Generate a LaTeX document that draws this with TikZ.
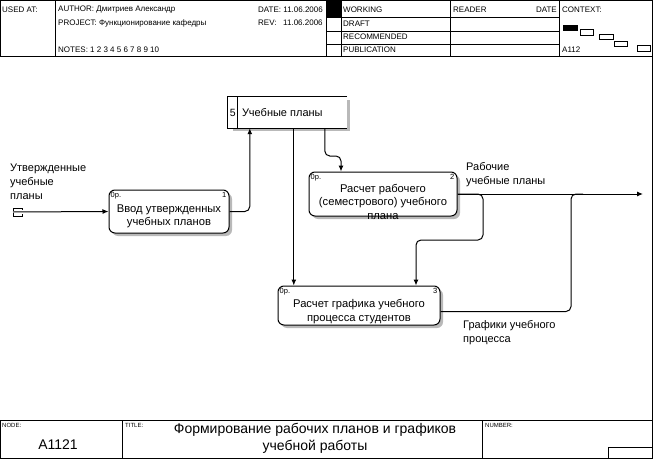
\documentclass[tikz,border=0pt]{standalone}
\usepackage{fontspec}
\setmainfont{Liberation Sans}
\usetikzlibrary{positioning,calc,arrows.meta,shadows}

\tikzset{
  frame/.style={line width=1pt},
  head/.style={font=\fontsize{8}{9}\selectfont, anchor=west, inner sep=0pt},
  foot/.style={font=\fontsize{6}{7}\selectfont, anchor=west, inner sep=0pt},
  func/.style={draw, line width=1pt, rounded corners=6pt, fill=white, inner sep=0pt,
    drop shadow={shadow xshift=3pt, shadow yshift=-3pt, fill=gray!55, opacity=1}},
  functext/.style={align=center, inner sep=0pt, font=\fontsize{11.2}{13.5}\selectfont},
  corner/.style={font=\fontsize{7.5}{8}\selectfont, inner sep=0pt},
  arrowtext/.style={align=left, anchor=west, inner sep=0pt, font=\fontsize{11}{14}\selectfont},
  flow/.style={line width=1pt, rounded corners=5pt, -{Latex[length=6pt,width=5pt]}},
}

\begin{document}
\begin{tikzpicture}[x=1pt,y=-1pt]
	\useasboundingbox (0,0) rectangle (656,460);

	% header
	\draw[frame] (0.5,0.5) rectangle (652,57);
	\draw[frame] (55,0.5) -- (55,57);
	\draw[frame] (326,0.5) -- (326,57);
	\draw[frame] (341,0.5) -- (341,57);
	\draw[frame] (450,0.5) -- (450,57);
	\draw[frame] (559,0.5) -- (559,57);
	\fill (326,0.5) rectangle (341,18);
	\foreach \y in {18,32,45}
		\draw[frame] (326,\y) -- (559,\y);

	\node[head] (usedat) at (2,10) {USED AT:};
	\node[head] (author) at (58,10) {AUTHOR: Дмитриев Александр};
	\node[head] (project) at (58,23) {PROJECT: Функционирование кафедры};
	\node[head] (notes) at (58,50) {NOTES: 1 2 3 4 5 6 7 8 9 10};
	\node[head] (date) at (258,10) {DATE: 11.06.2006};
	\node[head] (rev) at (258,23) {REV: \ \ 11.06.2006};
	\node[head] (working) at (343,10) {WORKING};
	\node[head] (draft) at (343,24) {DRAFT};
	\node[head] (recommended) at (343,37) {RECOMMENDED};
	\node[head] (publication) at (343,50) {PUBLICATION};
	\node[head] (reader) at (453,10) {READER};
	\node[head, anchor=east] (readerdate) at (557,10) {DATE};
	\node[head] (context) at (562,10) {CONTEXT:};
	\node[head] (parent) at (562,50) {A112};

	% context
	\fill (563,25) rectangle (578,31);
	\draw (580,29) rectangle (593,35);
	\draw (599,34) rectangle (613,39);
	\draw (614,41) rectangle (627,46);
	\draw (637,45) rectangle (650,51);

	% border
	\draw[frame] (652,57) -- (652,420);

	% footer
	\draw[frame] (0.5,420) rectangle (652,458);
	\draw[frame] (122,420) -- (122,458);
	\draw[frame] (482,420) -- (482,458);
	\draw[frame] (608,447) rectangle (652,458);
	\node[foot] (nodelbl) at (2,425) {NODE:};
	\node[font=\fontsize{14}{16}\selectfont] (nodeno) at (58,445) {A1121};
	\node[foot] (titlelbl) at (125,425) {TITLE:};
	\node[align=center, font=\fontsize{14}{16.5}\selectfont] (title) at (315,438.5) {Формирование рабочих планов и графиков\\учебной работы};
	\node[foot] (numberlbl) at (485,425) {NUMBER:};

	% store
	\node[minimum width=119pt, minimum height=31pt, inner sep=0pt] (store) at (287.5,112.5) {};
	\fill[gray!55] ($(store.north east)+(0,3)$) rectangle ($(store.south east)+(3,3)$);
	\fill[gray!55] ($(store.south west)+(5,0)$) rectangle ($(store.south east)+(3,3)$);
	\draw[frame] (store.north east) -- (store.north west) -- (store.south west) -- (store.south east);
	\draw[frame] ($(store.north west)+(10,0)$) -- ($(store.south west)+(10,0)$);
	\node[font=\fontsize{10.5}{12}\selectfont] (storeno) at ($(store.west)+(5,0)$) {5};
	\node[arrowtext] (storename) at ($(store.west)+(14,0)$) {Учебные планы};

	% activities
	\node[func, minimum width=120pt, minimum height=43pt] (inputbox) at (169,211.5) {};
	\node[functext] (inputtext) at (169,216.5) {Ввод утвержденных\\учебных планов};
	\node[corner, anchor=north west] (inputcost) at ($(inputbox.north west)+(2,3)$) {0р.};
	\node[corner, anchor=north east] (inputno) at ($(inputbox.north east)+(-3,3)$) {1};

	\node[func, minimum width=148pt, minimum height=44pt] (workplan) at (383,194) {};
	\node[functext] (worktext) at (383,201.5) {Расчет рабочего\\(семестрового) учебного\\плана};
	\node[corner, anchor=north west] (workcost) at ($(workplan.north west)+(2,3)$) {0р.};
	\node[corner, anchor=north east] (workno) at ($(workplan.north east)+(-3,3)$) {2};

	\node[func, minimum width=162pt, minimum height=39pt] (schedule) at (359,305.5) {};
	\node[functext] (schedtext) at (359,311.5) {Расчет графика учебного\\процесса студентов};
	\node[corner, anchor=north west] (schedcost) at ($(schedule.north west)+(2,3)$) {0р.};
	\node[corner, anchor=north east] (schedno) at ($(schedule.north east)+(-3,3)$) {3};

	% input
	\coordinate (tunnel) at (13,212);
	\draw[line width=0.8pt] (13,211) -- (13,208) -- (22,208) -- (22,210);
	\draw[line width=0.8pt] (13,213) -- (13,216) -- (22,216) -- (22,214);
	\draw[flow] (tunnel) -- (inputbox.west);
	\node[arrowtext] (inlabel) at (10,182) {Утвержденные\\учебные\\планы};

	% to and from store
	\draw[flow] (inputbox.east) -| ($(store.south west)+(22,0)$);
	\coordinate (down1) at ($(store.south west)+(66,0)$);
	\draw[flow] (down1) -- (down1 |- schedule.north);
	\coordinate (down2) at ($(store.south west)+(97,0)$);
	\coordinate (bend2) at (341,156);
	\draw[flow] (down2) |- (bend2) -- (bend2 |- workplan.north);

	% outputs
	\coordinate (outr) at (643,194);
	\draw[flow] (workplan.east) -- (outr);
	\node[arrowtext] (outlabel) at (466,175) {Рабочие\\учебные планы};

	\coordinate (split) at (483,240);
	\coordinate (feed) at (416,240);
	\draw[flow] (workplan.east) -| (split) -- (feed) -- (feed |- schedule.north);

	\coordinate (join) at (571,194);
	\draw[line width=1pt, rounded corners=5pt] ($(schedule.east)+(0,6)$) -| (join) -- ++(12,0);
	\node[arrowtext] (schedlabel) at (463,333) {Графики учебного\\процесса};

\end{tikzpicture}
\end{document}
